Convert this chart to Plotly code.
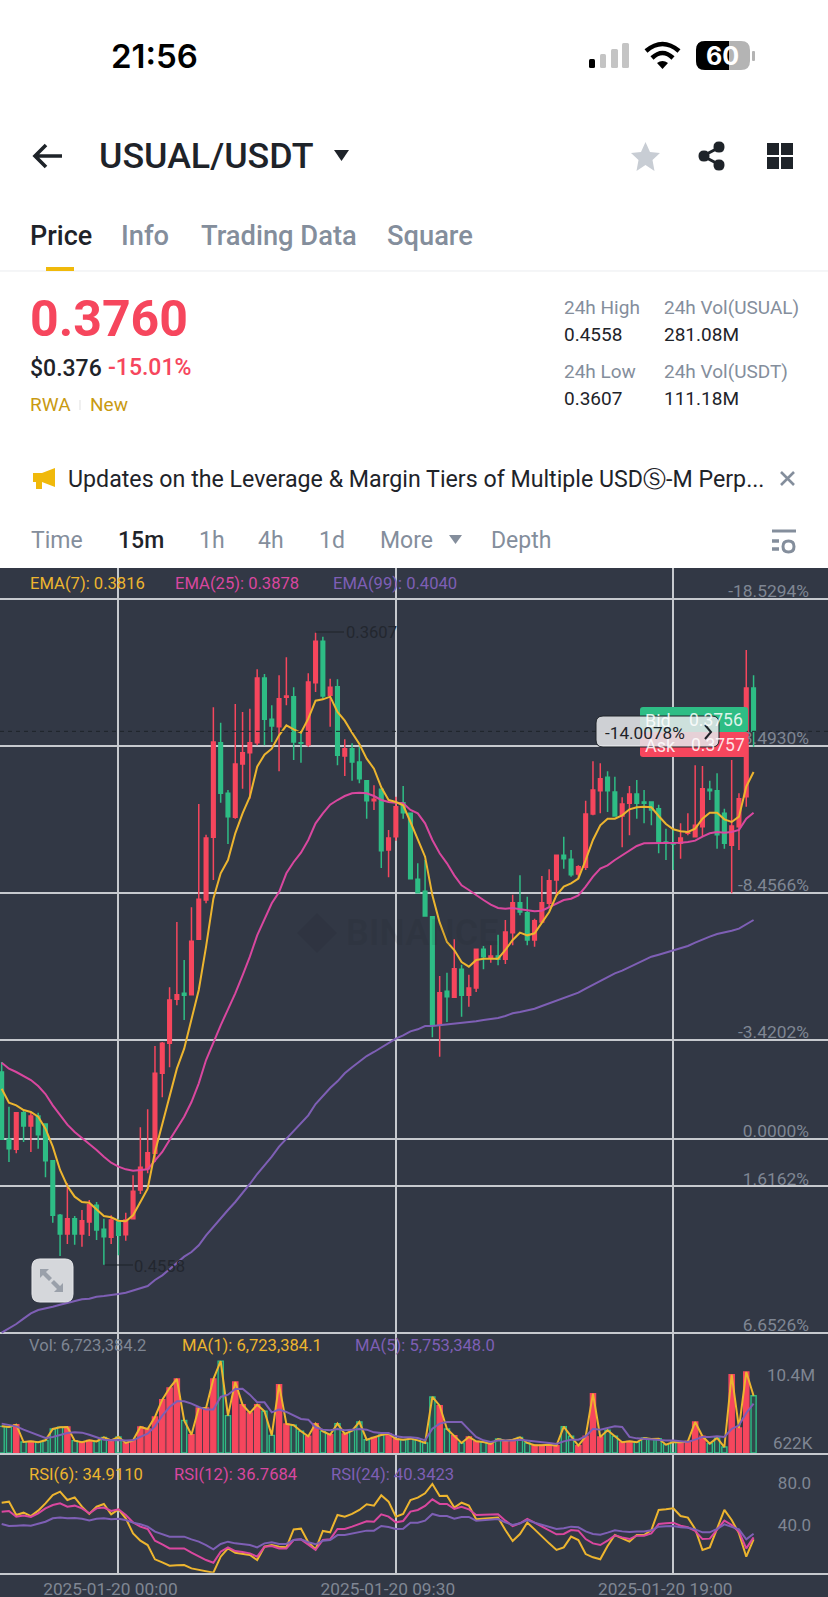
import re
import pandas as pd
import plotly.graph_objects as go

W, H = 828, 1597
BG = "#323845"; RED = "#F6465D"; GREEN = "#2EBD85"; INK = "#1E2329"; GREY = "#848E9C"
YEL = "#EDB52F"; PINK = "#D9479F"; PUR = "#7E5FB5"; GRID = "#C6C9CE"
FONT = "Roboto"

start_time = "2025-01-19 20:00"
opens = [.4271,.4372,.4387,.4332,.4352,.4337,.4349,.4404,.4486,.4514,.4491,.4514,.4496,.4471,.4507,.4519,.4496,.4515,.4491,.4448,.4416,.4393,.4273,.4228,
 .4162,.4153,.4155,.4072,.4013,.3919,.3777,.3853,.3889,.3809,.3792,.3777,.3680,.3742,.3753,.3709,.3708,.3777,.3780,.3687,.3625,.3706,.3693,.3797,.3786,.3806,
 .3834,.3864,.3847,.3938,.3918,.3867,.3883,.3982,.4000,.4038,.4201,.4150,.4159,.4117,.4156,.4145,.4087,.4099,.4097,.4102,.4062,.4017,.4032,.4073,.4046,.4018,
 .3983,.3946,.3952,.3974,.3964,.3884,.3849,.3829,.3851,.3887,.3868,.3854,.3866,.3866,.3876,.3926,.3928,.3928,.3913,.3918,.3903,.3847,.3849,.3883,.3931,.3903,.3858,.3695]
highs = [.4372,.4406,.4393,.4376,.4391,.4386,.4429,.4497,.4547,.4529,.4530,.4533,.4517,.4523,.4560,.4529,.4546,.4524,.4492,.4454,.4423,.4406,.4309,.4264,
 .4171,.4193,.4156,.4072,.4018,.3983,.3867,.3929,.3891,.3846,.3861,.3781,.3781,.3776,.3820,.3721,.3803,.3807,.3783,.3701,.3711,.3753,.3811,.3827,.3834,.3838,
 .3891,.3878,.3965,.3979,.3924,.3891,.3981,.4003,.4037,.4219,.4248,.4196,.4159,.4188,.4173,.4151,.4117,.4107,.4111,.4109,.4081,.4036,.4081,.4083,.4046,.4023,
 .4007,.3966,.3978,.3981,.3968,.3886,.3883,.3881,.3888,.3934,.3916,.3891,.3898,.3901,.3943,.3953,.3968,.3951,.3916,.3918,.3918,.3863,.3936,.3936,.4003,.3938,.3873,.3783]
lows = [.4256,.4323,.4331,.4328,.4331,.4332,.4349,.4404,.4484,.4438,.4487,.4478,.4463,.4466,.4491,.4486,.4491,.4482,.4426,.4354,.4327,.4232,.4226,.4144,
 .4046,.4103,.4024,.3869,.3915,.3724,.3747,.3848,.3719,.3731,.3726,.3667,.3674,.3721,.3676,.3649,.3694,.3763,.3673,.3612,.3618,.3681,.3682,.3772,.3778,.3783,
 .3834,.3841,.3846,.3908,.3858,.3842,.3882,.3958,.3953,.4038,.4127,.4122,.4072,.4110,.4125,.4086,.4082,.4081,.4065,.4043,.4005,.3976,.4008,.4041,.3977,.3967,
 .3946,.3918,.3938,.3961,.3864,.3805,.3808,.3820,.3828,.3859,.3842,.3833,.3848,.3866,.3870,.3906,.3908,.3898,.3883,.3811,.3812,.3834,.3823,.3876,.3803,.3853,.3638,.3676]
closes = [.4372,.4386,.4332,.4352,.4337,.4365,.4404,.4486,.4514,.4491,.4514,.4494,.4470,.4508,.4518,.4493,.4516,.4493,.4450,.4414,.4392,.4273,.4228,.4163,
 .4155,.4156,.4075,.4012,.3920,.3776,.3853,.3888,.3809,.3792,.3777,.3680,.3742,.3752,.3711,.3707,.3776,.3778,.3686,.3625,.3707,.3694,.3796,.3786,.3806,.3831,
 .3864,.3862,.3939,.3920,.3873,.3882,.3981,.4002,.4037,.4201,.4152,.4158,.4116,.4156,.4145,.4087,.4098,.4097,.4102,.4061,.4017,.4031,.4073,.4044,.4017,.3984,
 .3946,.3951,.3975,.3963,.3884,.3848,.3831,.3849,.3887,.3869,.3854,.3868,.3868,.3878,.3926,.3928,.3929,.3920,.3911,.3901,.3846,.3849,.3915,.3928,.3902,.3861,.3695,.3760]
ema7 = [.4296,.4317,.4321,.4328,.4331,.4338,.4356,.4383,.4418,.4442,.4458,.4466,.4467,.4477,.4487,.4489,.4494,.4495,.4486,.4466,.4446,.4391,.4349,.4306,.4266,.4236,.4193,.4148,
 .4083,.4011,.3973,.3953,.3913,.3883,.3858,.3813,.3795,.3786,.3766,.3751,.3757,.3762,.3741,.3714,.3712,.3708,.3731,.3744,.3762,.3779,.3801,.3816,.3844,.3863,.3866,.3871,.3896,
 .3922,.3948,.4006,.4047,.4076,.4088,.4106,.4113,.4103,.4101,.4101,.4101,.4088,.4073,.4062,.4066,.4063,.4046,.4031,.4006,.3993,.3988,.3981,.3953,.3923,.3901,.3891,.3891,.3886,
 .3877,.3874,.3873,.3874,.3887,.3899,.3907,.3910,.3911,.3906,.3891,.3882,.3882,.3892,.3896,.3888,.3843,.3821]
ema25 = [.4257,.4266,.4271,.4277,.4283,.4292,.4304,.4321,.4336,.4350,.4361,.4370,.4378,.4388,.4398,.4407,.4413,.4417,.4419,.4418,.4417,.4404,.4391,.4373,.4356,.4338,.4316,.4288,
 .4253,.4226,.4201,.4177,.4153,.4126,.4098,.4066,.4041,.4018,.4001,.3973,.3956,.3942,.3923,.3898,.3883,.3870,.3863,.3857,.3853,.3852,.3853,.3857,.3863,.3866,.3867,.3868,.3878,
 .3883,.3898,.3923,.3943,.3958,.3976,.3991,.3998,.4006,.4013,.4020,.4025,.4026,.4025,.4027,.4029,.4030,.4029,.4024,.4018,.4013,.4011,.4006,.3993,.3978,.3966,.3961,.3953,.3946,
 .3938,.3932,.3928,.3928,.3928,.3928,.3928,.3927,.3926,.3924,.3918,.3913,.3911,.3912,.3911,.3908,.3891,.3882]
ema99 = [.4662,.4656,.4649,.4641,.4633,.4628,.4626,.4623,.4620,.4617,.4614,.4612,.4611,.4608,.4607,.4606,.4604,.4602,.4599,.4596,.4592,.4583,.4576,.4567,.4557,.4548,.4541,.4531,
 .4516,.4503,.4491,.4478,.4466,.4453,.4439,.4424,.4411,.4398,.4383,.4371,.4359,.4348,.4336,.4319,.4307,.4295,.4285,.4273,.4264,.4256,.4247,.4241,.4234,.4227,.4221,.4216,.4210,
 .4207,.4202,.4202,.4201,.4200,.4199,.4198,.4197,.4195,.4193,.4192,.4190,.4187,.4183,.4181,.4179,.4176,.4172,.4168,.4163,.4159,.4156,.4152,.4146,.4140,.4134,.4128,.4123,.4119,
 .4114,.4109,.4104,.4098,.4095,.4092,.4088,.4085,.4082,.4077,.4072,.4068,.4064,.4062,.4059,.4056,.4050,.4043]
volume_m = [3.46,3.39,3.64,1.79,1.86,1.76,1.97,3.18,3.36,3.39,1.94,1.76,1.97,1.86,2.29,1.97,2.33,1.69,1.97,3.39,3.18,4.46,6.30,7.54,8.50,4.10,2.57,5.41,5.41,8.50,10.40,4.60,
 8.18,5.77,4.88,5.77,5.06,2.50,7.90,3.71,3.57,2.93,2.40,3.75,2.93,2.57,3.75,2.65,3.00,3.92,2.04,2.29,2.54,2.68,2.11,2.04,2.15,1.97,1.69,6.59,5.66,3.18,2.47,1.69,2.33,1.86,1.79,
 1.58,2.11,1.94,2.04,2.29,1.69,1.44,1.44,1.51,1.40,3.43,2.40,1.40,2.40,6.94,2.33,3.04,2.40,1.76,1.86,1.76,2.22,2.11,2.15,1.51,1.79,1.76,1.86,3.92,2.40,1.62,2.22,1.26,8.96,3.28,9.25,6.72]
vol_ma5 = [3.75,3.64,3.46,3.11,2.82,2.50,2.22,2.33,2.57,2.75,2.82,2.79,2.57,2.33,2.04,1.97,2.01,1.94,1.97,2.33,2.68,3.46,4.60,5.52,6.12,6.12,5.88,5.52,5.24,5.24,6.59,6.83,7.44,7.47,
 6.83,6.02,6.02,4.95,5.24,4.99,4.60,4.24,4.17,3.36,3.11,3.04,3.18,3.04,3.11,3.18,3.11,2.82,2.75,2.75,2.40,2.29,2.29,2.22,1.97,3.21,3.75,3.92,3.92,3.92,3.11,2.33,1.97,1.79,1.94,
 1.90,1.94,2.04,1.97,1.86,1.79,1.69,1.58,1.86,2.04,2.04,2.40,3.21,3.11,3.28,3.46,3.39,2.33,2.18,2.11,2.11,2.04,1.94,1.94,1.86,1.79,2.04,2.33,2.33,2.40,2.33,3.18,3.57,4.88,5.88]
rsi6 = [69.8,70.8,58.1,60.3,57.1,62.2,69.2,77.1,80.3,72.4,74.9,66.0,59.1,66.0,68.6,58.7,63.5,54.9,40.6,33.6,29.5,15.9,13.0,9.8,10.2,10.5,7.3,5.7,4.1,3.2,18.4,26.3,22.2,20.9,20.0,15.2,27.9,
 29.5,27.9,27.3,44.4,45.1,32.1,25.4,42.9,41.6,58.1,56.5,59.1,62.9,68.3,67.0,76.8,70.8,56.5,59.1,72.4,74.6,78.7,87.6,76.2,76.5,65.1,69.8,67.0,54.0,54.6,54.6,55.6,43.8,33.3,40.0,50.8,
 44.4,37.5,31.1,24.8,27.3,37.5,34.3,20.9,17.8,15.9,28.6,39.0,35.9,32.7,39.0,39.0,43.8,62.9,63.5,64.4,57.1,55.6,44.8,24.8,27.3,45.4,62.9,53.3,40.6,18.4,34.9]
rsi12 = [61.3,61.9,56.5,57.5,56.2,59.7,64.4,67.6,69.2,66.0,67.0,64.4,59.7,64.4,65.1,61.9,63.5,58.1,51.1,47.0,44.8,33.6,30.2,26.3,26.3,26.3,22.2,18.4,15.2,12.7,23.2,27.3,23.8,22.9,21.6,18.4,27.9,
 28.6,26.3,26.3,34.3,34.9,29.5,24.8,34.3,34.9,44.8,44.8,47.0,49.2,52.1,51.7,58.7,56.5,51.1,52.4,61.3,62.9,66.7,73.0,68.6,68.6,63.8,66.0,63.5,58.1,58.1,58.7,58.7,52.7,47.6,50.2,54.3,
 50.8,47.0,43.2,39.7,40.0,43.8,43.2,35.2,31.1,29.5,33.6,38.7,36.8,35.2,38.4,38.4,40.6,49.5,50.2,50.8,47.9,46.4,42.9,35.2,35.6,43.8,52.7,48.6,42.2,26.3,36.8]
rsi24 = [49.5,47.6,47.9,48.3,47.9,49.5,51.7,54.9,55.6,54.9,55.2,54.6,53.0,54.6,54.9,54.0,54.6,53.3,50.8,49.2,47.0,42.2,39.7,37.5,37.5,37.5,34.9,32.7,29.5,25.4,30.5,32.7,31.1,30.5,29.5,27.3,31.1,
 32.1,30.5,30.5,34.3,34.9,32.1,30.2,33.6,34.3,39.0,39.0,40.6,41.9,43.2,43.2,47.6,46.7,44.8,45.1,50.8,50.8,52.7,59.1,57.1,57.1,54.6,56.2,56.2,52.7,53.3,54.0,54.3,51.1,48.6,50.2,53.3,
 50.8,48.6,47.0,44.8,45.4,47.0,46.4,42.5,40.0,39.4,41.3,43.5,42.5,41.9,42.5,42.5,43.5,47.0,47.3,47.6,46.4,46.0,44.4,41.6,41.6,44.8,49.2,47.0,44.4,34.9,40.3]

pct_ticks = [-18.5294,-13.4930,-8.4566,-3.4202,0.0,1.6162,6.6526]
pct_labels = ["-18.5294%","-13.4930%","-8.4566%","-3.4202%","0.0000%","1.6162%","6.6526%"]
base_price = 0.4372
rsi_ticks = [80, 40]; rsi_labels = ["80.0", "40.0"]
time_ticks = ["2025-01-20 00:00","2025-01-20 09:30","2025-01-20 19:00"]
VOL_BASE = 0.622

n = len(opens)
for a in (highs, lows, closes, ema7, ema25, ema99, volume_m, vol_ma5, rsi6, rsi12, rsi24):
    assert len(a) == n, len(a)
times = pd.date_range(start_time, periods=n, freq="15min")

# pixel helpers for the page furniture
def fx(x): return x / W
def fy(y): return 1 - y / H
def path(d):
    out, is_x = [], True
    for t in re.findall(r"[MLQCZ]|-?[\d.]+", d):
        if t.isalpha():
            out.append(t)
        else:
            out.append(f"{fx(float(t)) if is_x else fy(float(t)):.6f}")
            is_x = not is_x
    return " ".join(out)
def rrect(x0, y0, x1, y1, r):
    return (f"M{x0+r} {y0} L{x1-r} {y0} Q{x1} {y0} {x1} {y0+r} L{x1} {y1-r} Q{x1} {y1} {x1-r} {y1} "
            f"L{x0+r} {y1} Q{x0} {y1} {x0} {y1-r} L{x0} {y0+r} Q{x0} {y0} {x0+r} {y0} Z")

shapes, notes = [], []
def S(d, fill=None, line=None, lw=0, layer="above"):
    shapes.append(dict(type="path", path=path(d), xref="paper", yref="paper", layer=layer,
                       fillcolor=fill or "rgba(0,0,0,0)", line=dict(color=line or "rgba(0,0,0,0)", width=lw)))
def T(x, y, text, size, color=INK, weight=400, anchor="left", family=FONT):
    notes.append(dict(x=fx(x), y=fy(y), xref="paper", yref="paper", text=text, showarrow=False, xanchor=anchor,
                      yanchor="middle", borderpad=0, font=dict(family=family, size=size, color=color, weight=weight)))

# dark panel
shapes.append(dict(type="rect", xref="paper", yref="paper", x0=0, x1=1, y0=0, y1=fy(568), layer="below",
                   fillcolor=BG, line=dict(width=0)))

# status bar
T(110, 56, "21:56", 33, "#000000", 600, family="Inter")
for x0, x1, top, col in [(589,595,59,"#000000"),(600,606,54,"#C4C4C4"),(611,618,49,"#C4C4C4"),(622,629,43,"#C4C4C4")]:
    S(rrect(x0, top, x1, 68, 1.5), fill=col)
S("M646 51 Q662.5 37 679 51", line="#000000", lw=4.5)
S("M652 58 Q662.5 48 673 58", line="#000000", lw=4.5)
S("M657 63 Q662.5 59 668 63 L662.5 69 Z", fill="#000000")
S(rrect(696, 41, 750, 70, 9), fill="#B4B4B4")
S("M705 41 L729 41 L729 70 L705 70 Q696 70 696 61 L696 50 Q696 41 705 41 Z", fill="#000000")
S(rrect(752, 51, 755, 61, 1), fill="#B4B4B4")
T(722, 56, "60", 25, "#FFFFFF", 700, "center", "Inter")

# title row
S("M62 156 L35 156 M46 145 L35 156 L46 167", line=INK, lw=3.6)
T(98, 156, "USUAL/USDT", 35.8, INK, 500)
S("M334 150 L349 150 L341.5 161 Z", fill=INK)
S("M645.5 142 L650 152 L660 153 L652.5 160 L654.5 171 L645.5 165 L636.5 171 L638.5 160 L631 153 L641 152 Z", fill="#C8CDD4")
S("M720 147 L703 156 L720 165", line=INK, lw=3)
for cx, cy in [(719,147),(704,156),(719,165)]:
    S(rrect(cx-5.5, cy-5.5, cx+5.5, cy+5.5, 5.5), fill=INK)
for x0, y0 in [(767,143),(781,143),(767,157),(781,157)]:
    S(f"M{x0} {y0} L{x0+12} {y0} L{x0+12} {y0+12} L{x0} {y0+12} Z", fill=INK)

# tabs
T(29, 236, "Price", 27, INK, 500)
for x, t in [(120,"Info"),(200,"Trading Data"),(386,"Square")]:
    T(x, 236, t, 27.3, GREY, 500)
S("M0 271 L828 271", line="#EAECEF", lw=1)
S("M46 267 L74 267 L74 271 L46 271 Z", fill="#F0B90B")

# price block
T(29, 319, "0.3760", 50, RED, 700)
T(29, 368, "$0.376", 23, INK, 500)
T(107, 367, "-15.01%", 23, RED, 500)
T(29, 404, "RWA", 19, "#C99A12")
S("M80 400 L80 410", line="#E0E0E0", lw=1)
T(89, 404, "New", 19, "#C99A12")
for x, a, b, c, d in [(563,"24h High","0.4558","24h Low","0.3607"),(663,"24h Vol(USUAL)","281.08M","24h Vol(USDT)","111.18M")]:
    T(x, 308, a, 19, GREY); T(x, 335, b, 19, INK); T(x, 372, c, 19, GREY); T(x, 398, d, 19, INK)

# notice
S("M33 473 L42 473 L55 468 L55 487 L42 482 L42 489 L36 489 L36 482 L33 482 Z", fill="#F0B90B")
T(67, 479, "Updates on the Leverage & Margin Tiers of Multiple USDⓈ-M Perp...", 23.2, INK)
S("M781 472 L794 485 M794 472 L781 485", line=GREY, lw=2.6)

# interval row
for x, t, c, w in [(30,"Time",GREY,400),(117,"15m",INK,500),(198,"1h",GREY,400),(257,"4h",GREY,400),(318,"1d",GREY,400),(379,"More",GREY,400),(490,"Depth",GREY,400)]:
    T(x, 540, t, 23, c, w)
S("M449 535 L462 535 L455.5 544 Z", fill=GREY)
S("M772 531 L796 531", line=GREY, lw=3)
S("M772 541 L779 541 M772 549 L779 549", line=GREY, lw=3.5)
S(rrect(783, 541, 794, 552, 5.5), line=GREY, lw=3)

# panel legends
for x, t, c in [(29,"EMA(7): 0.3816",YEL),(174,"EMA(25): 0.3878",PINK),(332,"EMA(99): 0.4040",PUR)]:
    T(x, 583, t, 16.6, c)
for x, t, c in [(28,"Vol: 6,723,384.2","#7F8693"),(181,"MA(1): 6,723,384.1",YEL),(354,"MA(5): 5,753,348.0",PUR)]:
    T(x, 1345, t, 16.6, c)
for x, t, c in [(28,"RSI(6): 34.9110",YEL),(173,"RSI(12): 36.7684",PINK),(330,"RSI(24): 40.3423",PUR)]:
    T(x, 1474, t, 16.6, c)
T(816, 1375, "10.4M", 17, "#7F8693", anchor="right")
T(814, 1443, "622K", 17, "#7F8693", anchor="right")

# high / low flags
S("M316 632 L344 632", line="#1E2329", lw=1)
T(345, 632, "0.3607", 16.6, "#23272F")
S("M105 1265 L133 1265", line="#1E2329", lw=1)
T(133, 1266, "0.4558", 16.6, "#23272F")

# watermark
S("M317 913 L337 933 L317 953 L297 933 Z", fill="rgba(20,24,32,.09)")
notes.append(dict(x=fx(344), y=fy(933), xref="paper", yref="paper", text="BINANCE", showarrow=False, xanchor="left",
                  yanchor="middle", font=dict(family=FONT, size=36, color="rgba(20,24,32,.09)", weight=700)))

# current price line
shapes.append(dict(type="line", xref="paper", yref="y", x0=0, x1=1, y0=closes[-1], y1=closes[-1], layer="above",
                   line=dict(color="#1E2329", width=1, dash="4px,4px")))

# bid / ask + pill
S(rrect(640, 707, 748, 732, 3), fill=GREEN)
S(rrect(640, 732, 748, 757, 3), fill=RED)
S(rrect(596, 716, 719, 747, 7), fill="rgba(228,229,232,.88)", line="#1E2329", lw=1)
T(644, 720, "Bid", 18, "rgba(255,255,255,.85)"); T(688, 720, "0.3756", 17.5, "rgba(255,255,255,.85)")
T(644, 745, "Ask", 18, "rgba(255,255,255,.85)"); T(690, 745, "0.3757", 17.5, "rgba(255,255,255,.85)")
T(604, 733, "-14.0078%", 17.2, INK)
S("M705 725 L711 732 L705 739", line=INK, lw=2)

# expand button
S(rrect(32, 1259, 73, 1302, 8), fill="#D5D7DB", line="#E6E7EA", lw=1)
S("M40 1269 L49 1269 L46 1272 L52 1278 L49 1281 L43 1275 L40 1278 Z", fill="#9AA0AA")
S("M63 1292 L54 1292 L57 1289 L51 1283 L54 1280 L60 1286 L63 1283 Z", fill="#9AA0AA")

fig = go.Figure()
fig.add_trace(go.Candlestick(x=times, open=opens, high=highs, low=lows, close=closes, xaxis="x", yaxis="y",
    increasing=dict(line=dict(color=GREEN, width=1.5), fillcolor=GREEN),
    decreasing=dict(line=dict(color=RED, width=1.5), fillcolor=RED), whiskerwidth=0, hoverinfo="skip", showlegend=False))
for vals, c in [(ema99,PUR),(ema25,PINK),(ema7,YEL)]:
    fig.add_trace(go.Scatter(x=times, y=vals, mode="lines", line=dict(color=c, width=2), xaxis="x", yaxis="y", hoverinfo="skip", showlegend=False))

up = [c >= o for o, c in zip(opens, closes)]
fig.add_trace(go.Bar(x=times, y=[v - VOL_BASE for v in volume_m], base=VOL_BASE, width=15*60000*0.7, xaxis="x2", yaxis="y2",
    marker=dict(color=["rgba(46,189,133,.12)" if u else RED for u in up],
                line=dict(color=[GREEN if u else RED for u in up], width=1.4)), hoverinfo="skip", showlegend=False))
fig.add_trace(go.Scatter(x=times, y=volume_m, mode="lines", line=dict(color=YEL, width=2), xaxis="x2", yaxis="y2", hoverinfo="skip", showlegend=False))
fig.add_trace(go.Scatter(x=times, y=vol_ma5, mode="lines", line=dict(color=PUR, width=2), xaxis="x2", yaxis="y2", hoverinfo="skip", showlegend=False))
for vals, c in [(rsi6,YEL),(rsi12,PINK),(rsi24,PUR)]:
    fig.add_trace(go.Scatter(x=times, y=vals, mode="lines", line=dict(color=c, width=2), xaxis="x3", yaxis="y3", hoverinfo="skip", showlegend=False))

t0 = pd.Timestamp(start_time)
x_range = [t0 + pd.Timedelta(minutes=15*(-1.67/7.3)), t0 + pd.Timedelta(minutes=15*((W-1.67)/7.3))]
xcommon = dict(type="date", range=x_range, tickmode="array", tickvals=time_ticks, showgrid=True, gridcolor=GRID, gridwidth=1.5,
               zeroline=False, ticks="", automargin=False)
label_font = dict(family=FONT, size=17.4, color="#7F8693")
fig.update_layout(
    width=W, height=H, margin=dict(l=0, r=0, t=0, b=0), paper_bgcolor="#FFFFFF", plot_bgcolor="rgba(0,0,0,0)",
    showlegend=False, shapes=shapes, annotations=notes, dragmode=False,
    xaxis=dict(domain=[0,1], anchor="y", rangeslider=dict(visible=False), showticklabels=False, **xcommon),
    xaxis2=dict(domain=[0,1], anchor="y2", matches="x", showticklabels=False, showline=True, linecolor=GRID, linewidth=1.5, layer="below traces", **xcommon),
    xaxis3=dict(domain=[0,1], anchor="y3", matches="x", showticklabels=True, ticktext=time_ticks, showline=True, linecolor=GRID, linewidth=1.5,
                tickfont=dict(family=FONT, size=17.3, color="#7F8693"), ticklabelshift=-8, ticklabelstandoff=0, **xcommon),
    yaxis=dict(domain=[fy(1345), fy(568)], anchor="x", side="right", range=[.46805,.3515], tickmode="array",
               tickvals=[base_price*(1+p/100) for p in pct_ticks], ticktext=pct_labels, ticklabelposition="inside", ticks="",
               ticklabelstandoff=16, ticklabelshift=8, tickfont=label_font, automargin=False,
               showgrid=True, gridcolor=GRID, gridwidth=1.5, zeroline=False),
    yaxis2=dict(domain=[fy(1453), fy(1333.7)], anchor="x2", side="right", range=[VOL_BASE, VOL_BASE+12.70], showgrid=False, zeroline=False, showticklabels=False, automargin=False),
    yaxis3=dict(domain=[fy(1572.7), fy(1453)], anchor="x3", side="right", range=[3.17,117.1], tickmode="array", tickvals=rsi_ticks, ticktext=rsi_labels,
                ticklabelposition="inside", ticks="", ticklabelstandoff=14, ticklabelshift=-9, tickfont=dict(family=FONT, size=17, color="#7F8693"), automargin=False,
                showgrid=False, zeroline=False),
)
fig.write_html("out.html", config=dict(displayModeBar=False), post_script="document.body.style.margin='0';")
